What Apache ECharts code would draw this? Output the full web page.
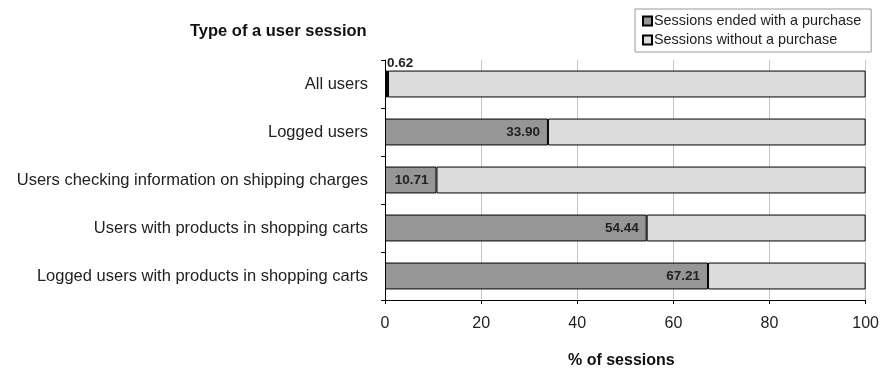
<!DOCTYPE html>
<html><head><meta charset="utf-8">
<script src="https://cdn.jsdelivr.net/npm/echarts@6/dist/echarts.min.js"></script>
<style>html,body{margin:0;padding:0;background:#fff}#c{width:882px;height:369px}</style>
</head><body><div id="c"></div>
<script>
const categories = ["All users","Logged users","Users checking information on shipping charges","Users with products in shopping carts","Logged users with products in shopping carts"];
const withPurchase = [0.62, 33.90, 10.71, 54.44, 67.21];
const withoutPurchase = [99.38, 66.10, 89.29, 45.56, 32.79];
const xTicks = [0, 20, 40, 60, 80, 100];
const seriesNames = ["Sessions ended with a purchase","Sessions without a purchase"];

const chart = echarts.init(document.getElementById('c'), null, {renderer:'canvas'});
const font = 'Liberation Sans, Arial, sans-serif';
chart.setOption({
  animation:false,
  textStyle:{fontFamily:font},
  legend:{
    orient:'vertical', left:635, top:9, itemGap:5, itemWidth:9, itemHeight:9, icon:'rect',
    borderColor:'#999', borderWidth:1, padding:[5,10,5,7],
    textStyle:{fontSize:14.4, color:'#222', fontFamily:font, padding:[0,0,0,-3]},
    data:seriesNames
  },
  grid:{left:385, right:10, top:60, bottom:69},
  xAxis:{
    type:'value', min:xTicks[0], max:xTicks[xTicks.length-1], interval:20,
    axisLine:{show:true, lineStyle:{color:'#000'}},
    axisTick:{show:true, length:4, lineStyle:{color:'#000'}},
    axisLabel:{color:'#222', fontSize:16, margin:16, fontFamily:font},
    splitLine:{show:true, lineStyle:{color:'#c8c8c8'}}
  },
  yAxis:{
    type:'category', data:categories, inverse:true,
    axisLine:{show:true, lineStyle:{color:'#000'}},
    axisTick:{show:true, length:4, lineStyle:{color:'#000'}},
    axisLabel:{color:'#222', fontSize:16.5, margin:17, fontFamily:font}
  },
  graphic:[
    {type:'text', left:190, top:23, style:{text:'Type of a user session', font:'bold 16.5px '+font, fill:'#111'}},
    {type:'text', left:568, top:353, style:{text:'% of sessions', font:'bold 16px '+font, fill:'#111'}}
  ],
  series:[
    {name:seriesNames[0], type:'bar', stack:'s', barWidth:'56%',
     itemStyle:{color:'#969696', borderColor:'#000', borderWidth:1},
     label:{show:true, position:'insideRight', distance:8, fontSize:13.5, fontWeight:'bold', color:'#222', fontFamily:font,
       formatter:p=>p.value.toFixed(2)},
     data:withPurchase.map((v,i)=> i===0 ? {value:v, itemStyle:{color:'#000'}, label:{position:[2,-14]}} : v)
    },
    {name:seriesNames[1], type:'bar', stack:'s', barWidth:'56%',
     itemStyle:{color:'#dcdcdc', borderColor:'#000', borderWidth:1},
     data:withoutPurchase
    }
  ]
});
</script></body></html>
